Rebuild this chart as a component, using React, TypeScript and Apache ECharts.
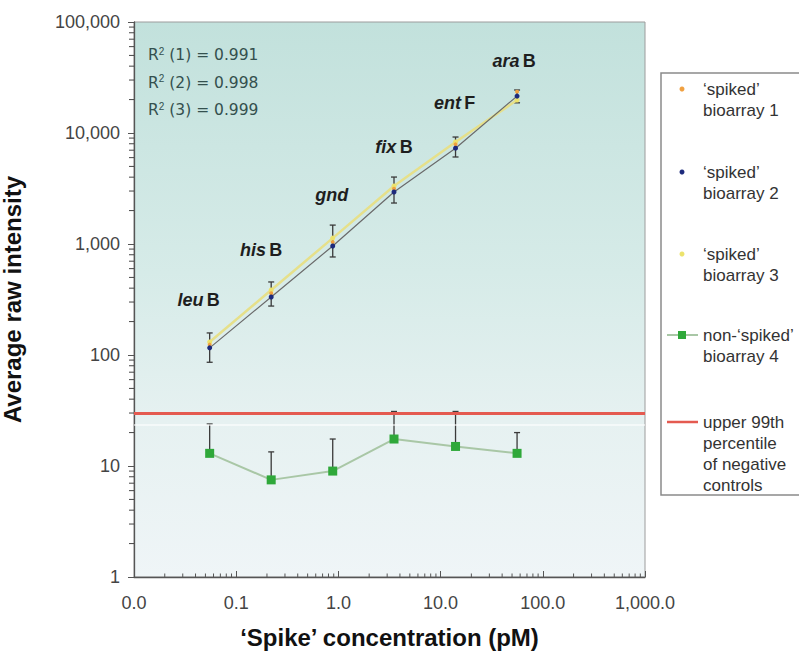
import React, { useEffect, useRef } from "react";
import * as echarts from "echarts";

// ---- data ----
const concentrations = [0.055, 0.22, 0.88, 3.5, 14, 56];
const geneItalic = ["leu", "his", "gnd", "fix", "ent", "ara"];
const geneSuffix = ["B", "B", "", "B", "F", "B"];
const spiked1 = [124, 360, 1040, 3150, 7900, 23500];
const spiked2 = [116, 333, 960, 2940, 7300, 21500];
const spiked3 = [131, 385, 1130, 3330, 8300, 19800];
const spikedLow = [86, 276, 764, 2340, 6080, 18700];
const spikedHigh = [158, 455, 1480, 4010, 9200, 24400];
const nonSpiked = [13, 7.5, 9, 17.5, 15, 13];
const nonSpikedHigh = [23.9, 13.4, 17.5, 31, 31, 20];
const threshold = 30;
const faintLineValue = 23.4;
const rSquared = ["0.991", "0.998", "0.999"];
const xTickLabels = ["0.0", "0.1", "1.0", "10.0", "100.0", "1,000.0"];
const yTickLabels = ["1", "10", "100", "1,000", "10,000", "100,000"];
const xDecades = [0.01, 0.1, 1, 10, 100];
const yDecades = [1, 10, 100, 1000, 10000];
const minorMultipliers = [2, 3, 4, 5, 6, 7, 8, 9];
const legendLabels = [
  "‘spiked’\nbioarray 1",
  "‘spiked’\nbioarray 2",
  "‘spiked’\nbioarray 3",
  "non-‘spiked’\nbioarray 4",
  "upper 99th\npercentile\nof negative\ncontrols",
];

// ---- styling / layout ----
const COLORS = {
  s1: "#f0a040",
  s2: "#1d2a7c",
  s3: "#ece36c",
  green: "#2fa83a",
  greenLine: "#a9c7a6",
  red: "#e45a50",
  err: "#3a3a3a",
};
const geneLabelOffsets = [
  [-11, -48],
  [-10, -47],
  [-1, -51],
  [0, -45],
  [-1, -45],
  [-3, -35],
];
const legendRows = [89, 172, 254, 335, 422];

const errRender = (capBottom: boolean) => (params: any, api: any) => {
  const x = api.value(0);
  const lo = api.coord([x, api.value(1)]);
  const hi = api.coord([x, api.value(2)]);
  const w = 3;
  const st = { stroke: COLORS.err, lineWidth: 1.3 };
  const children: any[] = [
    { type: "line", shape: { x1: lo[0], y1: lo[1], x2: hi[0], y2: hi[1] }, style: st },
    { type: "line", shape: { x1: hi[0] - w, y1: hi[1], x2: hi[0] + w, y2: hi[1] }, style: st },
  ];
  if (capBottom) {
    children.push({ type: "line", shape: { x1: lo[0] - w, y1: lo[1], x2: lo[0] + w, y2: lo[1] }, style: st });
  }
  return { type: "group", children };
};

export default function App() {
  const ref = useRef<HTMLDivElement>(null);
  useEffect(() => {
    if (!ref.current) return;
    const chart = echarts.init(ref.current, undefined, { renderer: "svg" });

    const legendGraphics: any[] = [
      {
        type: "rect",
        shape: { x: 661, y: 73, width: 170, height: 422 },
        style: { fill: "#ffffff", stroke: "#8a8a8a", lineWidth: 1.5 },
      },
    ];
    const dotColors = [COLORS.s1, COLORS.s2, COLORS.s3];
    legendLabels.forEach((lab, i) => {
      const y = legendRows[i];
      if (i < 3) {
        legendGraphics.push({ type: "circle", shape: { cx: 682, cy: y, r: 2.5 }, style: { fill: dotColors[i] } });
      } else if (i === 3) {
        legendGraphics.push({ type: "line", shape: { x1: 667, y1: y, x2: 698, y2: y }, style: { stroke: COLORS.greenLine, lineWidth: 2 } });
        legendGraphics.push({ type: "rect", shape: { x: 678, y: y - 4, width: 8, height: 8 }, style: { fill: COLORS.green } });
      } else {
        legendGraphics.push({ type: "line", shape: { x1: 667, y1: y, x2: 698, y2: y }, style: { stroke: COLORS.red, lineWidth: 2.5 } });
      }
      legendGraphics.push({
        type: "text",
        x: 703,
        y: y - 10.5,
        style: {
          text: lab,
          fill: "#333",
          font: "17px 'Liberation Sans', Arial, sans-serif",
          lineHeight: 21,
          verticalAlign: "top",
          align: "left",
        },
      });
    });

    const r2Graphics = rSquared.map((v, i) => ({
      type: "text",
      x: 148,
      y: 55 + i * 27.5,
      style: {
        text: `R{sup|2} (${i + 1}) = ${v}`,
        rich: { sup: { fontSize: 10, verticalAlign: "top", padding: [0, 0, 8, 0] } },
        fill: "#34504e",
        font: "15.5px 'DejaVu Sans', sans-serif",
        verticalAlign: "middle",
      },
    }));

    const xy = (vals: number[]) => concentrations.map((c, i) => [c, vals[i]]);
    const yMinor: number[] = [];
    yDecades.forEach((d) => minorMultipliers.forEach((m) => yMinor.push(d * m)));
    const xMinor: number[] = [];
    xDecades.forEach((d) => minorMultipliers.forEach((m) => xMinor.push(d * m)));

    chart.setOption({
      animation: false,
      textStyle: { fontFamily: "'Liberation Sans', Arial, sans-serif" },
      grid: {
        left: 134,
        top: 22,
        width: 511,
        height: 555,
        containLabel: false,
        outerBoundsMode: "none",
        show: true,
        borderColor: "#9c9c9c",
        borderWidth: 1,
        backgroundColor: {
          type: "linear",
          x: 0,
          y: 0,
          x2: 0,
          y2: 1,
          colorStops: [
            { offset: 0, color: "#c2e1dc" },
            { offset: 0.45, color: "#d6ebe8" },
            { offset: 0.72, color: "#e6f1f1" },
            { offset: 1, color: "#eff5f7" },
          ],
        },
      },
      xAxis: {
        type: "log",
        logBase: 10,
        min: 0.01,
        max: 1000,
        splitNumber: 5,
        name: "‘Spike’ concentration (pM)",
        nameLocation: "middle",
        nameGap: 48,
        nameTextStyle: { fontSize: 24, fontWeight: "bold", color: "#111" },
        axisLine: { lineStyle: { color: "#555", width: 1.3 } },
        axisTick: { inside: true, length: 6, lineStyle: { color: "#555" } },
        splitLine: { show: false },
        axisLabel: {
          fontSize: 18,
          color: "#444",
          margin: 17,
          formatter: (v: number) => xTickLabels[Math.round(Math.log10(v)) + 2] ?? "",
        },
      },
      yAxis: {
        type: "log",
        logBase: 10,
        min: 1,
        max: 100000,
        splitNumber: 5,
        name: "Average raw intensity",
        nameLocation: "middle",
        nameRotate: 90,
        nameGap: 110,
        nameTextStyle: { fontSize: 24, fontWeight: "bold", color: "#111" },
        axisLine: { show: true, lineStyle: { color: "#555", width: 1.3 } },
        axisTick: { show: true, inside: false, length: 6, lineStyle: { color: "#555" } },
        splitLine: { show: false },
        axisLabel: {
          fontSize: 18,
          color: "#444",
          margin: 14,
          formatter: (v: number) => yTickLabels[Math.round(Math.log10(v))] ?? "",
        },
      },
      graphic: [...r2Graphics, ...legendGraphics],
      series: [
        {
          name: "y minor ticks",
          type: "custom",
          silent: true,
          clip: false,
          renderItem: (params: any, api: any) => {
            const p = api.coord([0.01, api.value(1)]);
            return { type: "line", z2: 10, shape: { x1: p[0] - 5, y1: p[1], x2: p[0], y2: p[1] }, style: { stroke: "#444", lineWidth: 1 } };
          },
          encode: { x: 0, y: 1 },
          data: yMinor.map((v) => [0.01, v]),
          z: 10,
        },
        {
          name: "x minor ticks",
          type: "custom",
          silent: true,
          clip: false,
          renderItem: (params: any, api: any) => {
            const p = api.coord([api.value(0), 1]);
            return { type: "line", shape: { x1: p[0], y1: p[1], x2: p[0], y2: p[1] - 3.5 }, style: { stroke: "#555", lineWidth: 1 } };
          },
          encode: { x: 0, y: 1 },
          data: xMinor.map((v) => [v, 1]),
          z: 10,
        },
        {
          name: "spiked error",
          type: "custom",
          renderItem: errRender(true),
          encode: { x: 0, y: [1, 2] },
          data: concentrations.map((c, i) => [c, spikedLow[i], spikedHigh[i]]),
          z: 2,
        },
        {
          name: "non-spiked error",
          type: "custom",
          renderItem: errRender(false),
          encode: { x: 0, y: [1, 2] },
          data: concentrations.map((c, i) => [c, nonSpiked[i], nonSpikedHigh[i]]),
          z: 2,
        },
        {
          name: "‘spiked’ bioarray 3",
          type: "line",
          data: xy(spiked3),
          symbol: "circle",
          symbolSize: 5,
          itemStyle: { color: COLORS.s3 },
          lineStyle: { color: "#e6e08a", width: 2.5 },
          z: 3,
        },
        {
          name: "‘spiked’ bioarray 1",
          type: "line",
          data: xy(spiked1),
          symbol: "circle",
          symbolSize: 4,
          itemStyle: { color: COLORS.s1 },
          lineStyle: { width: 0 },
          z: 4,
        },
        {
          name: "‘spiked’ bioarray 2",
          type: "line",
          data: concentrations.map((c, i) => ({
            value: [c, spiked2[i]],
            label: {
              show: true,
              position: "inside",
              offset: geneLabelOffsets[i],
              formatter: geneSuffix[i] ? `{i|${geneItalic[i]}} {n|${geneSuffix[i]}}` : `{i|${geneItalic[i]}}`,
              rich: {
                i: { fontSize: 18, fontWeight: "bold", fontStyle: "italic", color: "#1e1e1e", fontFamily: "'Liberation Sans', Arial, sans-serif" },
                n: { fontSize: 18, fontWeight: "bold", color: "#1e1e1e", fontFamily: "'Liberation Sans', Arial, sans-serif" },
              },
            },
          })),
          symbol: "circle",
          symbolSize: 5,
          itemStyle: { color: COLORS.s2 },
          lineStyle: { color: "#6a6a6a", width: 1.2 },
          z: 5,
        },
        {
          name: "non-‘spiked’ bioarray 4",
          type: "line",
          data: xy(nonSpiked),
          symbol: "rect",
          symbolSize: 9,
          itemStyle: { color: COLORS.green },
          lineStyle: { color: COLORS.greenLine, width: 2 },
          z: 5,
          markLine: {
            silent: true,
            symbol: "none",
            label: { show: false },
            data: [
              { yAxis: threshold, lineStyle: { color: COLORS.red, width: 3, type: "solid" } },
              { yAxis: faintLineValue, lineStyle: { color: "rgba(255,255,255,0.75)", width: 1.5, type: "solid" } },
            ],
          },
        },
      ],
    });
    return () => chart.dispose();
  }, []);
  return (
    <div
      ref={ref}
      style={{ position: "absolute", left: 0, top: 0, width: 799, height: 655, background: "#ffffff" }}
    />
  );
}
